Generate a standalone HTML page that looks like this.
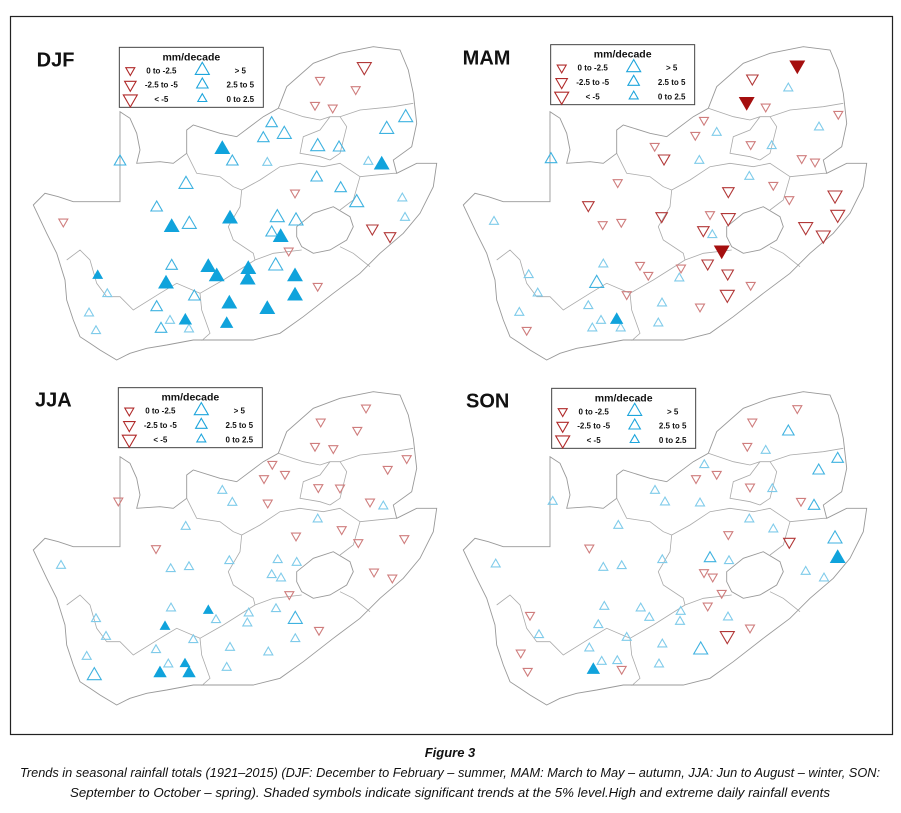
<!DOCTYPE html>
<html><head><meta charset="utf-8">
<style>
html,body{margin:0;padding:0;background:#fff;}
svg{display:block;font-family:"Liberation Sans",sans-serif;}
</style></head>
<body>
<svg id="fig" width="901" height="813" viewBox="0 0 901 813">
<rect x="10.5" y="16.5" width="882" height="718" fill="#fff" stroke="#222" stroke-width="1.2"/>
<g id="panels"></g>
<text x="450" y="757" text-anchor="middle" font-size="13" font-weight="bold" font-style="italic" fill="#111">Figure 3</text>
<text x="20" y="777" textLength="860" lengthAdjust="spacingAndGlyphs" font-size="12.5" font-style="italic" fill="#111">Trends in seasonal rainfall totals (1921–2015) (DJF: December to February – summer, MAM: March to May – autumn, JJA: Jun to August – winter, SON:</text>
<text x="70" y="797" textLength="760" lengthAdjust="spacingAndGlyphs" font-size="12.5" font-style="italic" fill="#111">September to October – spring). Shaded symbols indicate significant trends at the 5% level.High and extreme daily rainfall events</text>
</svg>
<script>
// Station data in map units (map grid, 3 units per pixel). type: d=drying, D=significant drying, u=wetting, U=significant wetting; size class s/m/l
const seasons = ["DJF","MAM","JJA","SON"];
const djfStations = [[1033,140,'d','l'],[900,180,'d','s'],[1007,208,'d','s'],[885,255,'d','s'],[938,263,'d','s'],[130,605,'d','s'],[825,518,'d','s'],[1057,625,'d','m'],[1110,648,'d','m'],[806,692,'d','s'],[893,798,'d','s'],
[755,310,'u','m'],[730,355,'u','m'],[793,343,'u','l'],[1157,293,'u','l'],[1100,328,'u','l'],[893,380,'u','l'],[957,383,'u','m'],[637,425,'u','m'],[742,428,'u','s'],[1045,425,'u','s'],[300,425,'u','m'],[890,473,'u','m'],[498,493,'u','l'],[962,505,'u','m'],[1010,548,'u','l'],[1147,535,'u','s'],[410,563,'u','m'],[508,613,'u','l'],[772,593,'u','l'],[828,603,'u','l'],[755,638,'u','m'],[1155,593,'u','s'],[455,738,'u','m'],[767,738,'u','l'],[262,822,'u','s'],[523,830,'u','m'],[410,862,'u','m'],[207,880,'u','s'],[450,902,'u','s'],[228,933,'u','s'],[423,927,'u','m'],[507,928,'u','s'],
[607,388,'U','l'],[1085,435,'U','l'],[455,622,'U','l'],[630,597,'U','l'],[782,652,'U','l'],[565,742,'U','l'],[590,770,'U','l'],[685,748,'U','l'],[683,780,'U','l'],[438,792,'U','l'],[825,770,'U','l'],[825,828,'U','l'],[233,767,'U','s'],[628,852,'U','l'],[742,868,'U','l'],[496,902,'U','m'],[620,912,'U','m']];
const mamStations = [[1042,135,'D','l'],[890,245,'D','l'],[815,690,'D','l'],
[907,175,'d','m'],[947,260,'d','s'],[1165,282,'d','s'],[762,300,'d','s'],[736,345,'d','s'],[902,373,'d','s'],[614,378,'d','s'],[642,415,'d','m'],[1055,415,'d','s'],[1095,425,'d','s'],[503,487,'d','s'],[970,495,'d','s'],[835,513,'d','m'],[1018,538,'d','s'],[415,555,'d','m'],[1155,525,'d','l'],[635,588,'d','m'],[780,583,'d','s'],[835,593,'d','l'],[1163,583,'d','l'],[458,613,'d','s'],[514,606,'d','s'],[760,630,'d','m'],[1067,620,'d','l'],[1120,645,'d','l'],[570,735,'d','s'],[693,743,'d','s'],[773,730,'d','m'],[595,765,'d','s'],[833,760,'d','m'],[902,795,'d','s'],[530,823,'d','s'],[832,823,'d','l'],[750,860,'d','s'],[230,930,'d','s'],
[1015,205,'u','s'],[800,338,'u','s'],[1107,322,'u','s'],[965,378,'u','s'],[303,418,'u','m'],[748,422,'u','s'],[898,470,'u','s'],[132,605,'u','s'],[787,645,'u','s'],[460,733,'u','s'],[688,775,'u','s'],[236,765,'u','s'],[440,790,'u','l'],[263,820,'u','s'],[415,858,'u','s'],[636,850,'u','s'],[208,878,'u','s'],[453,902,'u','s'],[427,925,'u','s'],[512,925,'u','s'],[625,910,'u','s'],
[500,900,'U','m']];
const jjaStations = [[1038,128,'d','s'],[902,170,'d','s'],[1012,195,'d','s'],[885,243,'d','s'],[940,250,'d','s'],[757,297,'d','s'],[1160,280,'d','s'],[795,327,'d','s'],[732,340,'d','s'],[1103,312,'d','s'],[895,367,'d','s'],[960,368,'d','s'],[295,407,'d','s'],[743,413,'d','s'],[1050,410,'d','s'],[965,493,'d','s'],[828,512,'d','s'],[1153,520,'d','s'],[408,550,'d','s'],[1015,532,'d','s'],[1062,620,'d','s'],[1117,638,'d','s'],[808,688,'d','s'],[897,795,'d','s'],
[607,377,'u','s'],[637,413,'u','s'],[1090,424,'u','s'],[893,463,'u','s'],[497,485,'u','s'],[123,602,'u','s'],[628,588,'u','s'],[773,585,'u','s'],[830,593,'u','s'],[452,612,'u','s'],[507,606,'u','s'],[755,630,'u','s'],[783,640,'u','s'],[453,730,'u','s'],[768,732,'u','s'],[686,745,'u','s'],[228,762,'u','s'],[588,765,'u','s'],[826,763,'u','l'],[682,775,'u','s'],[258,815,'u','s'],[520,825,'u','s'],[826,822,'u','s'],[408,855,'u','s'],[630,848,'u','s'],[745,862,'u','s'],[200,875,'u','s'],[445,898,'u','s'],[620,908,'u','s'],[223,932,'u','l'],
[565,737,'U','s'],[435,785,'U','s'],[495,897,'U','s'],[420,925,'U','m'],[507,925,'U','m']];
const sonStations = [[1042,130,'d','s'],[907,170,'d','s'],[892,243,'d','s'],[738,340,'d','s'],[800,327,'d','s'],[900,365,'d','s'],[1053,408,'d','s'],[418,548,'d','s'],[835,508,'d','s'],[1018,530,'d','m'],[762,622,'d','s'],[788,635,'d','s'],[815,684,'d','s'],[773,722,'d','s'],[240,750,'d','s'],[832,812,'d','l'],[900,788,'d','s'],[212,863,'d','s'],[233,918,'d','s'],[515,912,'d','s'],
[1015,200,'u','m'],[947,257,'u','s'],[1163,282,'u','m'],[763,300,'u','s'],[1106,317,'u','m'],[967,372,'u','s'],[615,377,'u','s'],[308,410,'u','s'],[645,412,'u','s'],[750,415,'u','s'],[1092,423,'u','m'],[898,463,'u','s'],[505,482,'u','s'],[970,493,'u','s'],[1155,522,'u','l'],[137,598,'u','s'],[637,585,'u','s'],[780,580,'u','m'],[837,588,'u','s'],[460,608,'u','s'],[515,603,'u','s'],[1067,620,'u','s'],[1122,640,'u','s'],[463,725,'u','s'],[572,730,'u','s'],[692,740,'u','s'],[598,758,'u','s'],[690,770,'u','s'],[834,757,'u','s'],[445,780,'u','s'],[267,810,'u','s'],[530,818,'u','s'],[637,838,'u','s'],[418,850,'u','s'],[752,855,'u','l'],[455,890,'u','s'],[502,888,'u','s'],[627,898,'u','s'],
[1163,580,'U','l'],[430,915,'U','m']];
const stationSets = [djfStations, mamStations, jjaStations, sonStations];
const legendLabelsRed = ["0 to -2.5","-2.5 to -5","< -5"];
const legendLabelsBlue = ["> 5","2.5 to 5","0 to 2.5"];

// layout (not data)
const panelOrigins = [[20,20],[450,20],[20,365],[450,365]];
const titlePos = [[50,140],[38,133],[45,125],[48,128]];
const legendPos = [[298,82],[302,74],[295,68],[305,70]];
const outline = [[40,555],[75,520],[115,530],[160,545],[300,545],[300,275],[330,295],[350,340],[360,390],[350,430],[420,425],[460,430],[500,400],[500,330],[520,315],[600,340],[650,350],[730,290],[775,265],[800,200],[880,130],[960,100],[1060,80],[1140,90],[1165,150],[1180,220],[1190,310],[1175,380],[1120,420],[1130,460],[1190,430],[1250,430],[1240,500],[1200,580],[1150,640],[1080,700],[1020,760],[940,820],[850,890],[780,940],[700,960],[600,960],[520,960],[440,975],[380,985],[330,1000],[290,1020],[240,990],[210,970],[180,950],[160,900],[140,840],[135,780],[110,700],[80,640],[40,555]];
const borders = [
 [[500,400],[530,460],[600,470],[640,500],[665,510],[660,560],[625,620],[640,660],[700,700],[705,720]],
 [[705,720],[610,780],[540,820],[545,870],[570,940],[545,962]],
 [[140,720],[180,690],[210,720],[230,790],[260,830],[300,830],[340,870],[420,820],[470,790],[540,820]],
 [[665,510],[720,480],[780,440],[840,430],[910,440],[960,430],[1020,470]],
 [[1020,470],[1000,540],[960,570]],
 [[705,720],[760,700],[845,690]],
 [[775,265],[850,290],[900,300],[930,290],[960,290],[1020,270],[1120,260],[1180,250]],
 [[930,290],[900,330],[850,350],[840,400],[900,410],[930,420]],
 [[930,420],[960,400],[980,320],[960,290]],
 [[1020,470],[1120,460],[1130,460]],
 [[960,680],[1000,700],[1050,740]]
];
const lesotho = [[830,620],[880,580],[940,560],[990,590],[1000,620],[980,660],[930,690],[880,700],[845,680],[830,650],[830,620]];
const sizePx = {s:9,m:11.5,l:14};

const NS = "http://www.w3.org/2000/svg";
const sx = v => v/3, sy = v => v/3;
function mk(tag, attrs, parent){ const e=document.createElementNS(NS,tag); for(const k in attrs) e.setAttribute(k,attrs[k]); parent.appendChild(e); return e; }
function pts(arr){ return arr.map(p=>sx(p[0]).toFixed(1)+","+sy(p[1]).toFixed(1)).join(" "); }
function tri(parent, cx, cy, type, side){
  const h = side*0.866, up = (type==='u'||type==='U');
  let p;
  if(up) p=[[cx,cy-h*2/3],[cx-side/2,cy+h/3],[cx+side/2,cy+h/3]];
  else p=[[cx,cy+h*2/3],[cx-side/2,cy-h/3],[cx+side/2,cy-h/3]];
  let fill='none', stroke;
  if(type==='U'){fill='#10a3dc';stroke='#10a3dc';}
  else if(type==='D'){fill='#a50f0f';stroke='#a50f0f';}
  else if(type==='u'){stroke=side>10?'#3fb2e0':'#7fcbea';}
  else {stroke=side>10?'#b23838':'#cf7d7d';}
  return mk('polygon',{points:p.map(q=>q[0].toFixed(1)+","+q[1].toFixed(1)).join(" "),fill:fill,stroke:stroke,'stroke-width':1.1},parent);
}
const root = document.getElementById('panels');
seasons.forEach((name,i)=>{
  const g = mk('g',{transform:`translate(${panelOrigins[i][0]},${panelOrigins[i][1]})`},root);
  
  
  const o = mk('polygon',{points:pts(outline),fill:'#fff',stroke:'#999','stroke-width':0.9},g);
  
  
  borders.forEach(b=>{
    const l = mk('polyline',{points:pts(b),fill:'none',stroke:'#aaa','stroke-width':0.8},g);
    
    
  });
  const le = mk('polygon',{points:pts(lesotho),fill:'#fff',stroke:'#999','stroke-width':0.9},g);
  
  
  const t = mk('text',{x:sx(titlePos[i][0]),y:sy(titlePos[i][1]),'font-size':20,'font-weight':'bold',fill:'#111'},g);
  t.textContent = name;
  
  
  stationSets[i].forEach(s=>{
    const m = tri(g, sx(s[0]), sy(s[1]), s[2], sizePx[s[3]]);
    
    
  });
  // legend
  const lx = sx(legendPos[i][0]), ly = sy(legendPos[i][1]);
  const lg = mk('g',{},g);
  
  
  mk('rect',{x:lx,y:ly,width:144,height:60,fill:'#fff',stroke:'#444','stroke-width':1},lg);
  const lt = mk('text',{x:lx+72,y:ly+13,'text-anchor':'middle','font-size':10.5,'font-weight':'bold',fill:'#111'},lg);
  lt.textContent='mm/decade';
  
  
  const szs=[9,11.5,14], bsz=[14,11.5,9];
  for(let r=0;r<3;r++){
    const yy = ly+23+r*14.3;
    const a = tri(lg, lx+11, yy, 'd', szs[r]);
    a.setAttribute('stroke','#b02a2a');
    
    
    const tl = mk('text',{x:lx+42,y:yy+3,'text-anchor':'middle','font-size':8,'font-weight':'bold',fill:'#111'},lg);
    tl.textContent = legendLabelsRed[r];
    
    
    const b = tri(lg, lx+83, yy, 'u', bsz[r]);
    b.setAttribute('stroke','#1ea5dc');
    
    
    const tb = mk('text',{x:lx+121,y:yy+3,'text-anchor':'middle','font-size':8,'font-weight':'bold',fill:'#111'},lg);
    tb.textContent = legendLabelsBlue[r];
    
    
  }
});
</script>
</body></html>
